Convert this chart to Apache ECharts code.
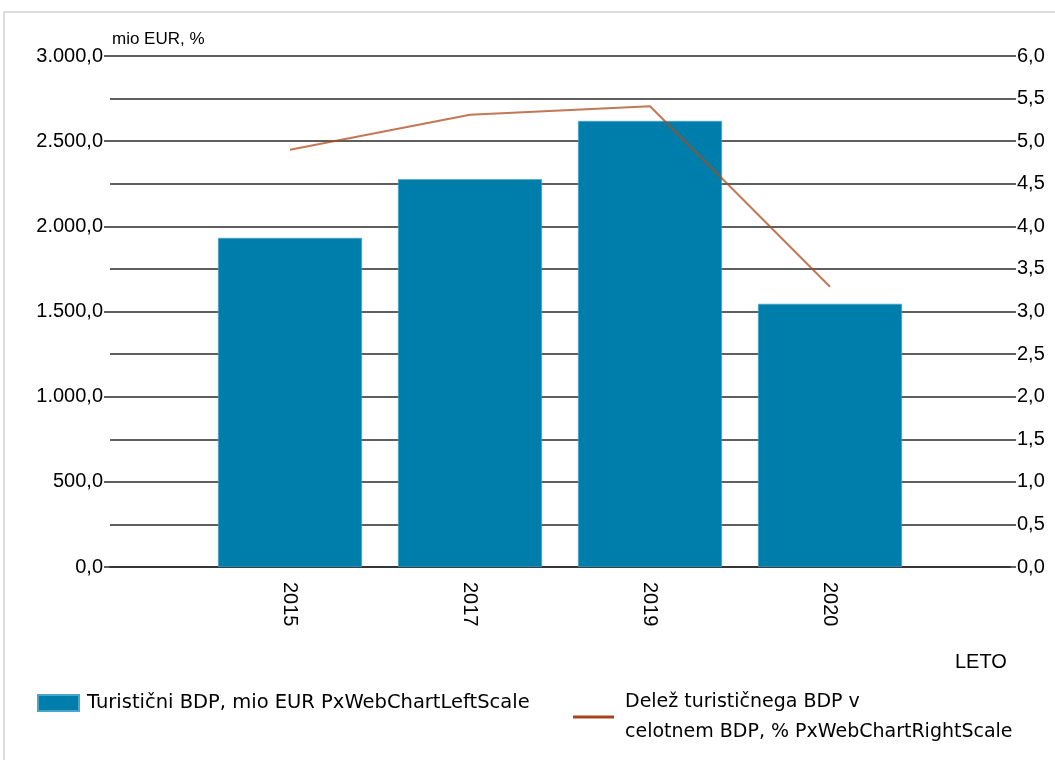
<!DOCTYPE html>
<html>
<head>
<meta charset="utf-8">
<script src="https://cdn.jsdelivr.net/npm/echarts@6/dist/echarts.min.js"></script>
<style>
  html, body { margin: 0; padding: 0; background: #fff; }
  #chart { width: 1055px; height: 760px; }
</style>
</head>
<body>
<div id="chart"></div>
<script>
// data
const years = ['2015', '2017', '2019', '2020']
const tourismGdp = [1932, 2277, 2619, 1545]        // mio EUR
const tourismShare = [4.9, 5.31, 5.41, 3.29]      // % of total GDP

const barName = 'Turistični BDP, mio EUR PxWebChartLeftScale'
const lineName = 'Delež turističnega BDP v\ncelotnem BDP, % PxWebChartRightScale'

// blank slot on each side so the bars sit half a band in from the edges
const categories = ['', ...years, '']
const pad = (arr) => [null, ...arr, null]

const fmt = (v, digits) => {
  const parts = v.toFixed(digits).split('.')
  parts[0] = parts[0].replace(/\B(?=(\d{3})+(?!\d))/g, '.')
  return parts.join(',')
}

const font = '"Liberation Sans", Arial, sans-serif'
const legendFont = '"DejaVu Sans", sans-serif'
const gridColor = '#2a2a2a'

const chart = echarts.init(document.getElementById('chart'))
chart.setOption({
  backgroundColor: '#fff',
  animation: false,
  textStyle: { fontFamily: font },
  grid: { left: 110, right: 45, top: 56, bottom: 193 },
  graphic: [
    {
      type: 'rect',
      shape: { x: 4, y: 12, width: 1200, height: 900 },
      style: { fill: 'none', stroke: '#dcdcdc', lineWidth: 2 },
      silent: true
    },
    {
      type: 'text', left: 112, top: 31,
      style: { text: 'mio EUR, %', font: '17px ' + font, fill: '#000' }
    },
    {
      type: 'text', left: 955, top: 652,
      style: { text: 'LETO', font: '20px ' + font, fill: '#000' }
    }
  ],
  legend: [
    {
      data: [{ name: barName, icon: 'rect' }],
      left: 37, top: 693, padding: 0,
      itemWidth: 41, itemHeight: 16,
      textStyle: { fontSize: 19.5, color: '#000', fontFamily: legendFont, padding: [4, 0, 0, 3] }
    },
    {
      data: [{ name: lineName, icon: 'rect' }],
      left: 573, top: 682, padding: 0,
      itemWidth: 41, itemHeight: 3,
      textStyle: { fontSize: 19, color: '#000', fontFamily: legendFont, lineHeight: 30, padding: [0, 0, 10, 6] }
    }
  ],
  xAxis: {
    type: 'category',
    data: categories,
    boundaryGap: false,
    axisLine: { lineStyle: { color: gridColor, width: 1.5 } },
    axisTick: { show: false },
    axisLabel: {
      rotate: -90,
      margin: 15,
      fontSize: 20,
      color: '#000',
      interval: 0,
      fontFamily: font
    }
  },
  yAxis: [
    {
      type: 'value',
      min: 0, max: 3000, interval: 500,
      axisLine: { show: false },
      axisTick: { show: true, length: 6, lineStyle: { color: gridColor, width: 1.5 } },
      splitLine: { show: false },
      axisLabel: {
        margin: 7, fontSize: 20, color: '#000', fontFamily: font,
        formatter: (v) => fmt(v, 1)
      }
    },
    {
      type: 'value',
      min: 0, max: 6, interval: 0.5,
      axisLine: { show: false },
      axisTick: { show: true, length: 6, lineStyle: { color: gridColor, width: 1.5 } },
      splitLine: { show: true, lineStyle: { color: gridColor, width: 1.5 } },
      axisLabel: {
        margin: 7, fontSize: 20, color: '#000', fontFamily: font,
        formatter: (v) => fmt(v, 1)
      }
    }
  ],
  series: [
    {
      name: barName,
      type: 'bar',
      yAxisIndex: 0,
      barWidth: 144,
      data: pad(tourismGdp),
      itemStyle: { color: '#007eab', borderColor: '#4aa6c8', borderWidth: 0.6 },
      z: 2
    },
    {
      name: lineName,
      type: 'line',
      yAxisIndex: 1,
      data: pad(tourismShare),
      showSymbol: false,
      symbol: 'none',
      connectNulls: false,
      itemStyle: { color: '#a8421a' },
      lineStyle: { color: 'rgba(173,74,28,0.75)', width: 2 },
      z: 3
    }
  ]
})
</script>
</body>
</html>
